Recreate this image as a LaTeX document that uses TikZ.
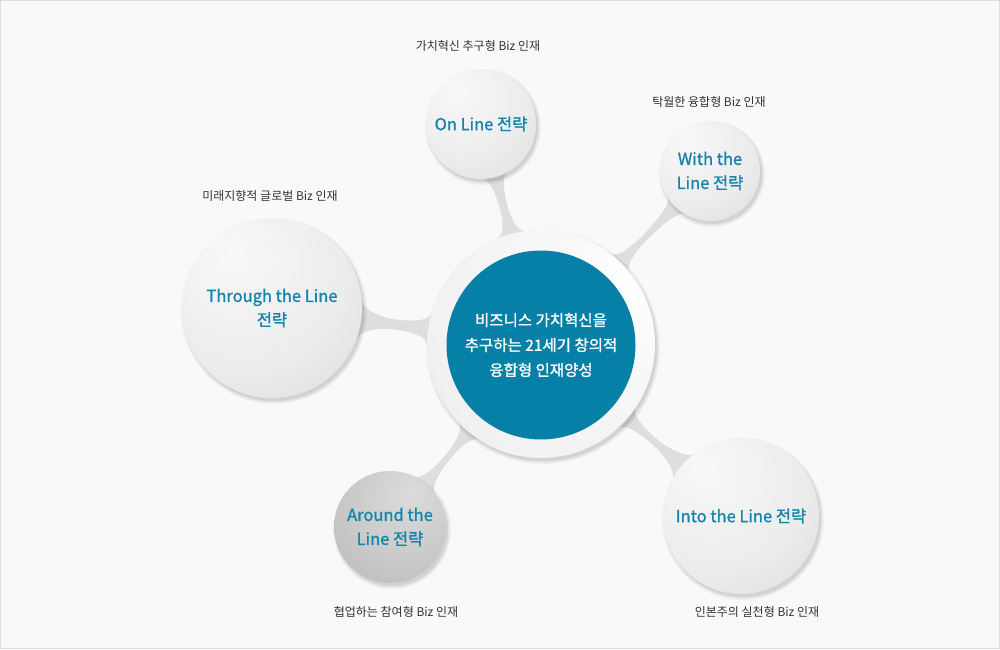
\documentclass[tikz,border=0pt]{standalone}
\usepackage{fontspec}
\setmainfont{Noto Sans CJK KR}
\newfontfamily\krsemi[FakeBold=1.2]{Noto Sans CJK KR}
\usetikzlibrary{calc}
\definecolor{bg}{HTML}{F9F9F9}
\definecolor{frame}{HTML}{DDDDDD}
\definecolor{teal1}{HTML}{0780A8}
\definecolor{tealtxt}{HTML}{1584AC}
\definecolor{lbl}{HTML}{333333}
\definecolor{connc}{HTML}{DEDEDE}
\definecolor{sA}{HTML}{F8F8F8}
\definecolor{sB}{HTML}{ECECEC}
\definecolor{sC}{HTML}{D0D0D0}
\definecolor{sD}{HTML}{C8C8C8}
\definecolor{dA}{HTML}{DCDCDC}
\definecolor{dB}{HTML}{C6C6C6}
\definecolor{dC}{HTML}{A8A8A8}
\definecolor{hA}{HTML}{FFFFFF}
\definecolor{hB}{HTML}{F1F1F1}
\definecolor{hC}{HTML}{D3D3D3}
\pgfdeclareradialshading{satshade}{\pgfpoint{-12bp}{16bp}}{color(0bp)=(sA); color(28bp)=(sB); color(58bp)=(sC); color(80bp)=(sD)}
\pgfdeclareradialshading{darkshade}{\pgfpoint{10bp}{16bp}}{color(0bp)=(dA); color(30bp)=(dB); color(60bp)=(dC); color(80bp)=(dC)}
\pgfdeclareradialshading{hubshade}{\pgfpoint{18bp}{12bp}}{color(0bp)=(hA); color(35bp)=(hB); color(62bp)=(hC); color(80bp)=(hC)}
\pgfdeclarelayer{connlayer}
\pgfdeclarelayer{shadowlayer}
\pgfsetlayers{connlayer,shadowlayer,main}
\tikzset{
  sat/.style={circle, inner sep=0pt, shading=satshade, text=tealtxt, align=center,
              font=\krsemi\fontsize{16.5}{24}\selectfont},
  satdark/.style={sat, shading=darkshade},
  hubring/.style={circle, inner sep=0pt, shading=hubshade},
  core/.style={circle, inner sep=0pt, fill=teal1, text=white, align=center,
               font=\krsemi\fontsize{15.5}{25}\selectfont},
  lab/.style={text=lbl, font=\fontsize{12}{14}\selectfont},
  connfill/.style={fill=connc},
}
\newcommand\conn[8]{%
 \fill[connfill] let \p1=($(#2.center)-(#1.center)$), \n1={atan2(\y1,\x1)} in
  ($(#1.center)+(\n1+#5:#3)$)
  .. controls ($(#1.center)+(\n1+#5:#3)+(\n1+#5-90:8)$) and ($(#1.center)+(\n1:#7-12)+(\n1+90:#8)$) ..
  ($(#1.center)+(\n1:#7)+(\n1+90:#8)$)
  .. controls ($(#1.center)+(\n1:#7+12)+(\n1+90:#8)$) and ($(#2.center)+(\n1+180-#6:#4)+(\n1+270-#6:10)$) ..
  ($(#2.center)+(\n1+180-#6:#4)$)
  -- (#2.center) --
  ($(#2.center)+(\n1+180+#6:#4)$)
  .. controls ($(#2.center)+(\n1+180+#6:#4)+(\n1+90+#6:10)$) and ($(#1.center)+(\n1:#7+12)+(\n1-90:#8)$) ..
  ($(#1.center)+(\n1:#7)+(\n1-90:#8)$)
  .. controls ($(#1.center)+(\n1:#7-12)+(\n1-90:#8)$) and ($(#1.center)+(\n1-#5:#3)+(\n1-#5+90:8)$) ..
  ($(#1.center)+(\n1-#5:#3)$)
  -- (#1.center) -- cycle;
}
\newcommand\softsh[2]{%
 \foreach \dr/\op in {3/0.04,1.5/0.05,0/0.07}
   \fill[black,opacity=\op] ($(#1.center)+(2,-3)$) circle[radius=#2+\dr];
}
\begin{document}
\begin{tikzpicture}[x=1pt,y=1pt]
\useasboundingbox (0,0) rectangle (1000,649);
\begin{pgfonlayer}{connlayer}
\draw[frame, fill=bg, line width=1pt] (0.5,0.5) rectangle (999.5,648.5);
\end{pgfonlayer}
% nodes
\node[hubring, minimum size=228] (hub) at (541,305) {};
\node[core, minimum size=189] (core) at (541,304) {비즈니스 가치혁신을\\추구하는 21세기 창의적\\융합형 인재양성};
\node[sat, minimum size=110] (on) at (481,525) {On Line 전략};
\node[sat, minimum size=100] (with) at (710,478) {With the\\Line 전략};
\node[sat, minimum size=180] (through) at (272,341) {Through the Line\\전략};
\node[satdark, minimum size=112] (around) at (390,122) {Around the\\Line 전략};
\node[sat, minimum size=156] (into) at (741,133) {Into the Line 전략};
% labels
\node[lab] (l1) at (478,603) {가치혁신 추구형 Biz 인재};
\node[lab] (l2) at (709,547) {탁월한 융합형 Biz 인재};
\node[lab] (l3) at (270,453) {미래지향적 글로벌 Biz 인재};
\node[lab] (l4) at (396,37) {협업하는 참여형 Biz 인재};
\node[lab] (l5) at (757,37) {인본주의 실천형 Biz 인재};
% connectors
\begin{pgfonlayer}{connlayer}
\conn{on}{hub}{55}{114}{14}{8}{86}{4}
\conn{with}{hub}{50}{114}{14}{7}{92}{3}
\conn{through}{hub}{90}{114}{12}{8}{122}{5}
\conn{around}{hub}{56}{114}{14}{7}{88}{3}
\conn{into}{hub}{78}{114}{12}{7}{113}{3.5}
\end{pgfonlayer}
\begin{pgfonlayer}{shadowlayer}
\softsh{hub}{114}
\softsh{on}{55}
\softsh{with}{50}
\softsh{through}{90}
\softsh{around}{56}
\softsh{into}{78}
\end{pgfonlayer}
\end{tikzpicture}
\end{document}
